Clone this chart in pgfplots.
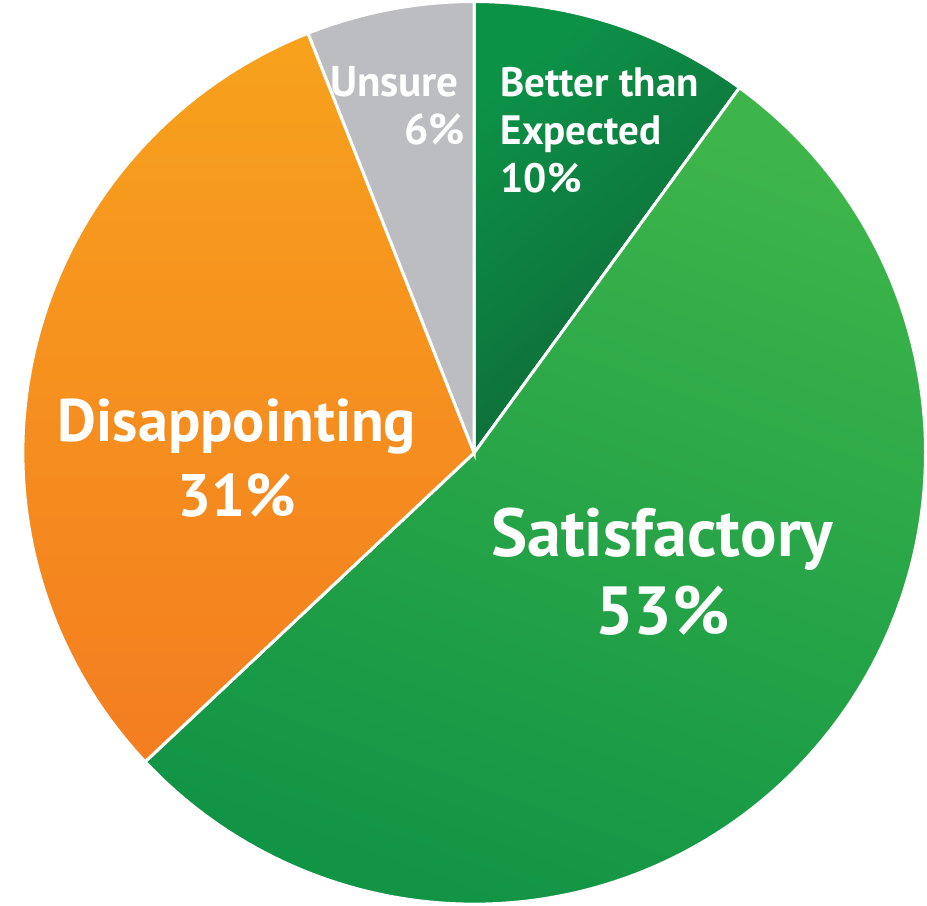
\documentclass[border=0pt]{standalone}
\usepackage{fontspec}
\setmainfont{PT Sans}
\usepackage{pgfplots}
\usepackage{pgfplotstable}
\pgfplotsset{compat=1.18}
\definecolor{betterA}{HTML}{0C9247}
\definecolor{betterB}{HTML}{0F6537}
\definecolor{satA}{HTML}{3DB54A}
\definecolor{satB}{HTML}{119445}
\definecolor{disA}{HTML}{F7A21D}
\definecolor{disB}{HTML}{F47D20}
\definecolor{unsure}{HTML}{BCBDC0}
\begin{document}
\pgfplotstableread{
label value
Better 10
Satisfactory 53
Disappointing 31
Unsure 6
}\piedata
\pgfplotstablegetelem{0}{value}\of\piedata \let\va\pgfplotsretval
\pgfplotstablegetelem{1}{value}\of\piedata \let\vb\pgfplotsretval
\pgfplotstablegetelem{2}{value}\of\piedata \let\vc\pgfplotsretval
\pgfmathsetmacro\aA{90-3.6*\va}
\pgfmathsetmacro\aB{\aA-3.6*\vb}
\pgfmathsetmacro\aC{\aB-3.6*\vc}
\def\cx{472}\def\cy{453}\def\R{451}
\begin{tikzpicture}
\begin{axis}[scale only axis, width=463.5pt, height=455.5pt,
  xmin=0, xmax=927, ymin=0, ymax=911, hide axis]
\addplot[draw=white, line width=1.5pt, top color=betterA, bottom color=betterB, shading angle=40,
  domain=\aA:90, samples=60, variable=\t]
  ({\cx+\R*cos(\t)},{\cy+\R*sin(\t)}) -- (axis cs:\cx,\cy) -- cycle;
\addplot[draw=white, line width=1.5pt, top color=satA, bottom color=satB, shading angle=-20,
  domain=\aB:\aA, samples=150, variable=\t]
  ({\cx+\R*cos(\t)},{\cy+\R*sin(\t)}) -- (axis cs:\cx,\cy) -- cycle;
\addplot[draw=white, line width=1.5pt, top color=disA, bottom color=disB,
  domain=\aC:\aB, samples=100, variable=\t]
  ({\cx+\R*cos(\t)},{\cy+\R*sin(\t)}) -- (axis cs:\cx,\cy) -- cycle;
\addplot[draw=white, line width=1.5pt, fill=unsure,
  domain=-270:\aC, samples=40, variable=\t]
  ({\cx+\R*cos(\t)},{\cy+\R*sin(\t)}) -- (axis cs:\cx,\cy) -- cycle;
\tikzset{lab/.style={text=white, inner sep=0pt}}
\node[lab, anchor=base west, font=\fontsize{20.5}{24}\selectfont\bfseries] at (axis cs:498,809) {Better than};
\node[lab, anchor=base west, font=\fontsize{20.5}{24}\selectfont\bfseries] at (axis cs:498,761) {Expected};
\node[lab, anchor=base west, font=\fontsize{20.5}{24}\selectfont\bfseries] at (axis cs:498,713) {10\%};
\node[lab, anchor=base east, font=\fontsize{21.5}{24}\selectfont\bfseries] at (axis cs:457,809) {Unsure};
\node[lab, anchor=base east, font=\fontsize{21.5}{24}\selectfont\bfseries] at (axis cs:463,761) {6\%};
\node[lab, anchor=base, font=\fontsize{30}{32}\selectfont\bfseries] at (axis cs:235,464) {Disappointing};
\node[lab, anchor=base, font=\fontsize{30}{32}\selectfont\bfseries] at (axis cs:235,389) {31\%};
\node[lab, anchor=base, font=\fontsize{34}{36}\selectfont\bfseries] at (axis cs:660,349) {Satisfactory};
\node[lab, anchor=base, font=\fontsize{34}{36}\selectfont\bfseries] at (axis cs:660,271) {53\%};
\end{axis}
\end{tikzpicture}
\end{document}
